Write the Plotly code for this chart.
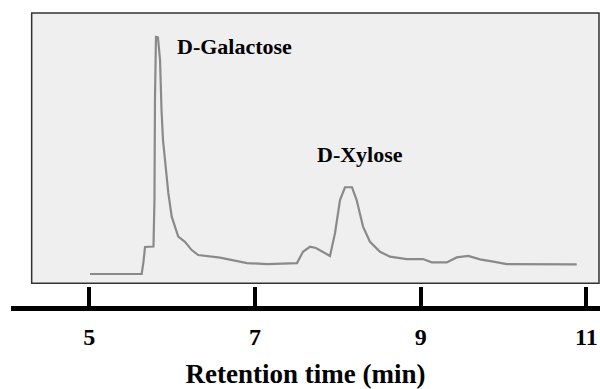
import plotly.graph_objects as go

# Retention time (min) and detector response (arbitrary units, D-galactose peak = 100)
time_min = [5.009, 5.633, 5.654, 5.673, 5.775, 5.787, 5.793, 5.805, 5.829, 5.854,
            5.872, 5.890, 5.914, 5.954, 5.995, 6.074, 6.155, 6.236, 6.316, 6.493,
            6.578, 6.904, 7.145, 7.423, 7.507, 7.579, 7.664, 7.736, 7.905, 7.966,
            8.026, 8.086, 8.171, 8.227, 8.304, 8.388, 8.509, 8.629, 8.831, 9.028,
            9.133, 9.314, 9.434, 9.574, 9.716, 9.876, 10.038, 10.883]
response = [0.0, 0.0, 5.1, 11.4, 11.6, 31.2, 73.4, 100.0, 99.8, 90.3,
            69.2, 56.5, 48.1, 34.2, 24.2, 15.8, 13.6, 10.1, 8.0, 7.2,
            6.9, 4.6, 4.2, 4.5, 4.6, 9.4, 11.5, 11.0, 7.6, 17.3,
            31.2, 36.6, 36.6, 31.2, 20.0, 13.6, 9.4, 7.3, 6.3, 6.3,
            4.9, 4.9, 7.0, 7.6, 6.2, 5.2, 4.2, 4.1]

tick_vals = [5, 7, 9, 11]
tick_text = ["5", "7", "9", "11"]

peak_labels = ["D-Galactose", "D-Xylose"]
peak_label_x = [6.04, 7.72]
peak_label_y = [95.8, 50.6]

serif = "Liberation Serif, Times New Roman, serif"

fig = go.Figure()
fig.add_trace(go.Scatter(
    x=time_min, y=response, mode="lines",
    line=dict(color="#8a8a8a", width=2.2),
    hoverinfo="skip", showlegend=False,
))

# grey framed panel behind the trace
fig.add_shape(type="rect", xref="paper", yref="paper",
              x0=0.0351, x1=0.9983, y0=0.0775, y1=1.0,
              fillcolor="#efefef", line=dict(color="#333333", width=1.5),
              layer="below")

for lab, lx, ly in zip(peak_labels, peak_label_x, peak_label_y):
    fig.add_annotation(x=lx, y=ly, xref="x", yref="y", text="<b>%s</b>" % lab,
                       showarrow=False, xanchor="left", yanchor="middle",
                       font=dict(family=serif, size=22, color="black"))

fig.update_layout(
    width=600, height=389,
    margin=dict(l=11, r=0, t=13, b=83),
    paper_bgcolor="white", plot_bgcolor="rgba(0,0,0,0)",
    xaxis=dict(
        range=[4.0555, 11.1638], showgrid=False, zeroline=False,
        showline=True, linecolor="black", linewidth=5,
        ticks="inside", ticklen=19, tickwidth=4, tickcolor="black",
        tickvals=tick_vals, ticktext=["<b>%s</b>" % t for t in tick_text],
        tickfont=dict(family=serif, size=24, color="black"),
        ticklabelstandoff=5,
        title=dict(text="<b>Retention time (min)</b>", standoff=18,
                   font=dict(family=serif, size=27, color="black")),
    ),
    yaxis=dict(range=[-13.50, 110.13], visible=False),
)

fig.write_html("out.html")
